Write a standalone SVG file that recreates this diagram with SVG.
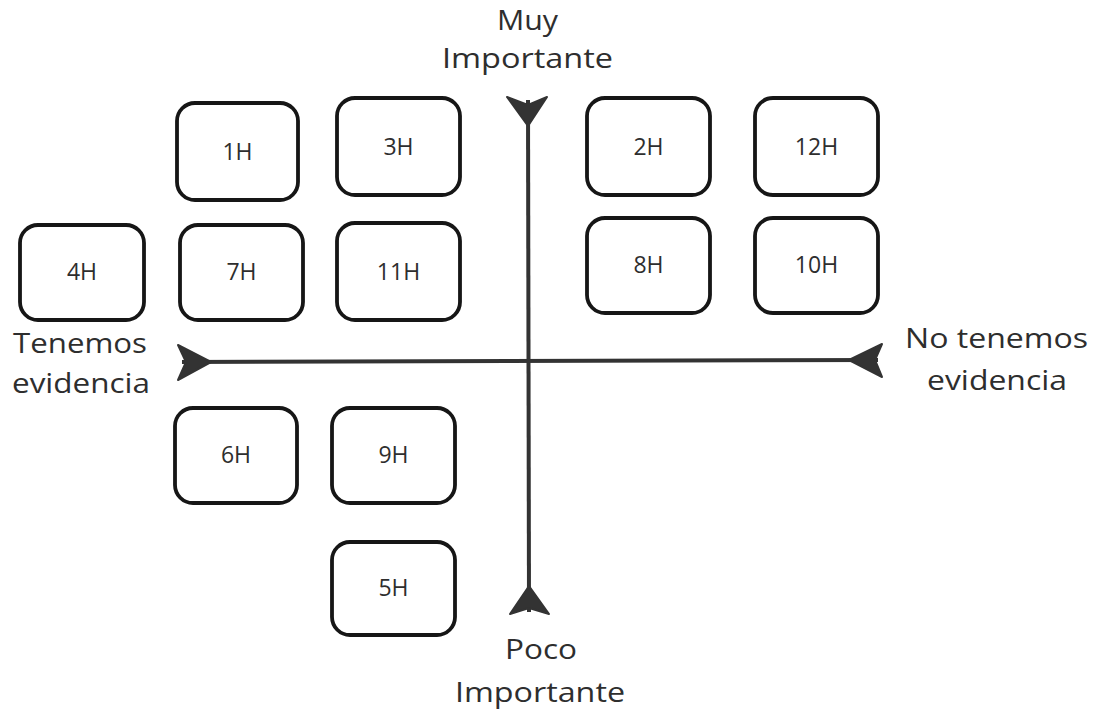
<svg xmlns="http://www.w3.org/2000/svg" width="1096" height="711" viewBox="0 0 1096 711">
<style>
.box{fill:#fff;stroke:#161616;stroke-width:3.8}
.bt{font-family:"Open Sans","Noto Sans",sans-serif;font-size:23px;fill:#2e2e2e;text-anchor:middle}
.lbl{font-family:"Open Sans","Noto Sans",sans-serif;font-size:28px;fill:#2e2e2e;text-anchor:middle}
.ax{stroke:#333;stroke-width:4;fill:none}
.ah{fill:#333;stroke:#333;stroke-width:2;stroke-linejoin:round}
</style>
<rect width="1096" height="711" fill="#fff"/>
<g id="connectors">
<line class="ax" x1="528" y1="100" x2="529" y2="612"/>
<line class="ax" x1="182" y1="362" x2="878" y2="360"/>
<path class="ah" d="M528 126 L507 97 L528 105 L547 97 Z"/>
<path class="ah" d="M529 586 L510 614 L529 608 L549 614 Z"/>
<path class="ah" d="M211 362 L178 345 L186 362 L178 380 Z"/>
<path class="ah" d="M849 360 L882 344 L875 360 L882 377 Z"/>
</g>
<g id="labels">
<text class="lbl" x="527.5" y="30" textLength="61" lengthAdjust="spacingAndGlyphs">Muy</text>
<text class="lbl" x="527.5" y="68" textLength="171" lengthAdjust="spacingAndGlyphs">Importante</text>
<text class="lbl" x="541" y="659" textLength="72" lengthAdjust="spacingAndGlyphs">Poco</text>
<text class="lbl" x="540" y="702" textLength="170" lengthAdjust="spacingAndGlyphs">Importante</text>
<text class="lbl" x="80" y="353" textLength="134" lengthAdjust="spacingAndGlyphs">Tenemos</text>
<text class="lbl" x="81" y="393" textLength="138" lengthAdjust="spacingAndGlyphs">evidencia</text>
<text class="lbl" x="996.5" y="348" textLength="183" lengthAdjust="spacingAndGlyphs">No tenemos</text>
<text class="lbl" x="997" y="390" textLength="140" lengthAdjust="spacingAndGlyphs">evidencia</text>
</g>
<g id="n1H"><rect class="box" x="177" y="103" width="121" height="97" rx="18"/><text class="bt" x="237.5" y="160">1H</text></g>
<g id="n3H"><rect class="box" x="337" y="98" width="123" height="97" rx="18"/><text class="bt" x="398.5" y="155">3H</text></g>
<g id="n2H"><rect class="box" x="587" y="98" width="123" height="97" rx="18"/><text class="bt" x="648.5" y="155">2H</text></g>
<g id="n12H"><rect class="box" x="755" y="98" width="123" height="97" rx="18"/><text class="bt" x="816.5" y="155">12H</text></g>
<g id="n4H"><rect class="box" x="20" y="225" width="124" height="95" rx="18"/><text class="bt" x="82" y="280">4H</text></g>
<g id="n7H"><rect class="box" x="180" y="225" width="123" height="95" rx="18"/><text class="bt" x="241.5" y="280">7H</text></g>
<g id="n11H"><rect class="box" x="337" y="223" width="123" height="97" rx="18"/><text class="bt" x="398.5" y="280">11H</text></g>
<g id="n8H"><rect class="box" x="587" y="218" width="123" height="95" rx="18"/><text class="bt" x="648.5" y="273">8H</text></g>
<g id="n10H"><rect class="box" x="755" y="218" width="123" height="95" rx="18"/><text class="bt" x="816.5" y="273">10H</text></g>
<g id="n6H"><rect class="box" x="175" y="408" width="122" height="95" rx="18"/><text class="bt" x="236" y="463">6H</text></g>
<g id="n9H"><rect class="box" x="332" y="408" width="123" height="95" rx="18"/><text class="bt" x="393.5" y="463">9H</text></g>
<g id="n5H"><rect class="box" x="332" y="542" width="123" height="93" rx="18"/><text class="bt" x="393.5" y="596">5H</text></g>
</svg>
